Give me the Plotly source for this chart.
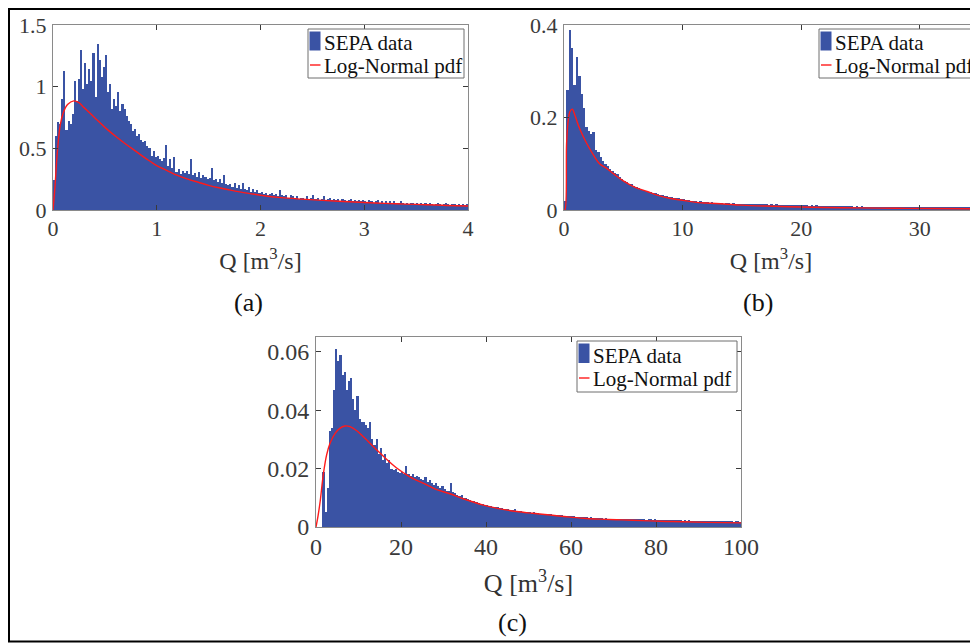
import plotly.graph_objects as go

# ---------------- data ----------------
A_BIN = 0.02
A_VALUES = [
    0.24, 0.60, 0.71, 0.70, 0.90, 1.13, 0.65, 0.72, 0.70, 0.78,
    1.05, 0.88, 1.06, 1.30, 0.98, 1.19, 1.02, 1.14, 1.05, 1.27,
    0.92, 1.35, 1.22, 1.08, 1.16, 1.26, 0.96, 1.02, 0.82, 0.90,
    0.84, 0.96, 0.80, 0.86, 0.82, 0.76, 0.72, 0.70, 0.64, 0.66,
    0.60, 0.62, 0.57, 0.55, 0.56, 0.52, 0.50, 0.44, 0.48, 0.43,
    0.44, 0.41, 0.40, 0.42, 0.53, 0.36, 0.41, 0.34, 0.43, 0.31,
    0.33, 0.29, 0.32, 0.30, 0.32, 0.29, 0.41, 0.28, 0.30, 0.27,
    0.31, 0.26, 0.28, 0.27, 0.25, 0.26, 0.34, 0.24, 0.25, 0.23,
    0.25, 0.22, 0.28, 0.21, 0.20, 0.21, 0.19, 0.22, 0.18, 0.20,
    0.17, 0.22, 0.17, 0.16, 0.19, 0.15, 0.17, 0.15, 0.16, 0.14,
    0.15, 0.13, 0.14, 0.12, 0.13, 0.14, 0.12, 0.13, 0.11, 0.16,
    0.12, 0.11, 0.12, 0.10, 0.12, 0.11, 0.10, 0.11, 0.09, 0.10,
    0.10, 0.09, 0.11, 0.09, 0.10, 0.12, 0.09, 0.10, 0.08, 0.09,
    0.11, 0.08, 0.09, 0.10, 0.08, 0.09, 0.08, 0.09, 0.07, 0.09,
    0.08, 0.07, 0.08, 0.09, 0.07, 0.08, 0.07, 0.08, 0.07, 0.08,
    0.07, 0.06, 0.08, 0.07, 0.06, 0.07, 0.08, 0.06, 0.07, 0.06,
    0.07, 0.06, 0.07, 0.06, 0.07, 0.05, 0.06, 0.07, 0.06, 0.05,
    0.06, 0.05, 0.06, 0.06, 0.05, 0.06, 0.05, 0.06, 0.05, 0.06,
    0.05, 0.06, 0.05, 0.04, 0.05, 0.06, 0.05, 0.04, 0.05, 0.06,
    0.05, 0.04, 0.05, 0.05, 0.04, 0.05, 0.04, 0.05, 0.04, 0.05,
]
A_CURVE_Q = [0, 0.02, 0.04, 0.07, 0.10, 0.14, 0.20, 0.25, 0.30, 0.40, 0.50,
             0.60, 0.70, 0.80, 0.90, 1.00, 1.10, 1.20, 1.30, 1.40, 1.50, 1.60,
             1.70, 1.80, 1.90, 2.00, 2.20, 2.40, 2.60, 2.80, 3.00, 3.20, 3.40,
             3.60, 3.80, 4.00]
A_CURVE_PDF = [0, 0.20, 0.45, 0.69, 0.79, 0.855, 0.885, 0.87, 0.83, 0.75, 0.67,
               0.60, 0.535, 0.475, 0.415, 0.36, 0.32, 0.28, 0.25, 0.225, 0.20,
               0.18, 0.163, 0.147, 0.133, 0.12, 0.10, 0.088, 0.078, 0.069,
               0.061, 0.054, 0.048, 0.043, 0.037, 0.032]

B_BIN = 0.2
B_VALUES = [
    0.02, 0.26, 0.39, 0.35, 0.27, 0.33, 0.29, 0.25, 0.22, 0.18,
    0.17, 0.165, 0.168, 0.13, 0.125, 0.115, 0.105, 0.10, 0.095, 0.088,
    0.085, 0.079, 0.077, 0.071, 0.068, 0.062, 0.061, 0.057, 0.056, 0.051,
    0.050, 0.047, 0.046, 0.043, 0.042, 0.040, 0.039, 0.037, 0.036, 0.034,
    0.033, 0.032, 0.031, 0.030, 0.029, 0.028, 0.027, 0.026, 0.025, 0.024,
    0.023, 0.021, 0.022, 0.020, 0.019, 0.020, 0.018, 0.019, 0.017, 0.018,
    0.017, 0.016, 0.017, 0.015, 0.016, 0.015, 0.016, 0.014, 0.015, 0.0145,
    0.014, 0.015, 0.0135, 0.014, 0.013, 0.014, 0.0135, 0.013, 0.0135, 0.013,
    0.0125, 0.013, 0.012, 0.0125, 0.012, 0.0125, 0.0115, 0.012, 0.0115, 0.012,
    0.011, 0.0115, 0.011, 0.0115, 0.0105, 0.011, 0.0105, 0.011, 0.010, 0.0105,
    0.010, 0.0105, 0.010, 0.0095, 0.010, 0.0095, 0.010, 0.009, 0.0095, 0.009,
    0.0095, 0.009, 0.0085, 0.009, 0.0085, 0.009, 0.0085, 0.008, 0.0085, 0.008,
    0.0085, 0.008, 0.0075, 0.008, 0.0075, 0.008, 0.0075, 0.007, 0.0075, 0.007,
    0.0075, 0.007, 0.0072, 0.0068, 0.007, 0.0068, 0.007, 0.0066, 0.0068, 0.0065,
    0.0068, 0.0065, 0.0067, 0.0063, 0.0065, 0.0062, 0.0066, 0.0063, 0.0062, 0.0064,
    0.0062, 0.0064, 0.006, 0.0062, 0.0059, 0.0061, 0.006, 0.0058, 0.006, 0.0059,
    0.0058, 0.006, 0.0057, 0.0059, 0.0056, 0.0058, 0.0057, 0.0055, 0.0057, 0.0056,
    0.0055, 0.0057, 0.0054, 0.0056, 0.0055,
]
B_CURVE_Q = [0, 0.08, 0.22, 0.36, 0.5, 0.7, 0.92, 1.2, 1.6, 2.0, 2.5, 3.0, 3.6,
             4.2, 5.0, 6.0, 7.0, 8.0, 9.0, 10, 11, 12, 13.5, 15, 17, 19, 22,
             25, 28, 31, 35]
B_CURVE_PDF = [0, 0.0, 0.145, 0.195, 0.213, 0.218, 0.205, 0.184, 0.16, 0.14,
               0.118, 0.10, 0.09, 0.078, 0.063, 0.049, 0.04, 0.031, 0.025,
               0.021, 0.017, 0.015, 0.013, 0.0105, 0.0085, 0.007, 0.0055,
               0.0045, 0.0037, 0.0031, 0.0026]

C_BIN = 0.5
C_VALUES = [
    0, 0, 0, 0.019, 0.005, 0.0135, 0.033, 0.034, 0.047, 0.061,
    0.057, 0.059, 0.052, 0.053, 0.047, 0.050, 0.051, 0.044, 0.040, 0.045,
    0.037, 0.036, 0.036, 0.035, 0.034, 0.036, 0.030, 0.028, 0.030, 0.025,
    0.027, 0.023, 0.025, 0.022, 0.023, 0.020, 0.0195, 0.020, 0.019, 0.0185,
    0.019, 0.018, 0.021, 0.018, 0.0175, 0.018, 0.017, 0.0175, 0.017, 0.0165,
    0.016, 0.017, 0.0155, 0.016, 0.015, 0.0145, 0.015, 0.014, 0.0135, 0.014,
    0.013, 0.0125, 0.0125, 0.015, 0.012, 0.0115, 0.011, 0.0105, 0.011, 0.010,
    0.0098, 0.0095, 0.0092, 0.009, 0.0088, 0.0085, 0.0083, 0.008, 0.0078, 0.0076,
    0.0075, 0.0073, 0.0072, 0.0070, 0.0068, 0.0067, 0.0066, 0.0064, 0.0063, 0.0062,
    0.0060, 0.0059, 0.0058, 0.0062, 0.0056, 0.0055, 0.0054, 0.0053, 0.0052, 0.0051,
    0.0050, 0.0049, 0.0050, 0.0048, 0.0047, 0.0046, 0.0046, 0.0045, 0.0044, 0.0045,
    0.0043, 0.0042, 0.0042, 0.0041, 0.0040, 0.0040, 0.0039, 0.0038, 0.0038, 0.0037,
    0.0036, 0.0037, 0.0035, 0.0035, 0.0034, 0.0034, 0.0033, 0.0033, 0.0032, 0.0033,
    0.0031, 0.0031, 0.0030, 0.0031, 0.0030, 0.0029, 0.0030, 0.0029, 0.0028, 0.0029,
    0.0028, 0.0029, 0.0028, 0.0027, 0.0028, 0.0027, 0.0028, 0.0026, 0.0027, 0.0028,
    0.0027, 0.0028, 0.0026, 0.0027, 0.0026, 0.0025, 0.0026, 0.0027, 0.0025, 0.0026,
    0.0025, 0.0024, 0.0025, 0.0024, 0.0025, 0.0023, 0.0024, 0.0023, 0.0024, 0.0023,
    0.0024, 0.0023, 0.0022, 0.0023, 0.0022, 0.0023, 0.0021, 0.0022, 0.0021, 0.0022,
    0.0021, 0.0022, 0.0021, 0.0020, 0.0021, 0.0020, 0.0021, 0.0020, 0.0019, 0.0020,
    0.0020, 0.0019, 0.0020, 0.0019, 0.0020, 0.0019, 0.0018, 0.0019, 0.0019, 0.0018,
]
C_CURVE_Q = [0, 0.5, 1.0, 1.7, 2.5, 3.3, 4.5, 5.6, 6.8, 8.0, 9.6, 11.1, 12.7,
             14.3, 16.6, 18.9, 22.1, 25.2, 28.4, 31.5, 35, 39.4, 43, 47.2, 51,
             55.1, 59, 62.9, 66.8, 70.7, 74.6, 78.6, 82.5, 86.4, 92, 100]
C_CURVE_PDF = [0, 0.004, 0.009, 0.0178, 0.0247, 0.0287, 0.0321, 0.0338, 0.0346,
               0.0344, 0.0330, 0.0310, 0.0287, 0.0264, 0.0232, 0.0203, 0.0172,
               0.0150, 0.0128, 0.0114, 0.0095, 0.0075, 0.0063, 0.0053, 0.0047,
               0.0041, 0.0035, 0.0030, 0.0027, 0.0025, 0.0023, 0.0021, 0.0019,
               0.0018, 0.0016, 0.0014]

A_XTICKS = [0, 1, 2, 3, 4]
A_YTICKS = [0, 0.5, 1, 1.5]
A_YTICKTEXT = ["0", "0.5", "1", "1.5"]
B_XTICKS = [0, 10, 20, 30]
B_YTICKS = [0, 0.2, 0.4]
B_YTICKTEXT = ["0", "0.2", "0.4"]
C_XTICKS = [0, 20, 40, 60, 80, 100]
C_YTICKS = [0, 0.02, 0.04, 0.06]
C_YTICKTEXT = ["0", "0.02", "0.04", "0.06"]

HIST_NAME = "SEPA data"
PDF_NAME = "Log-Normal pdf"
X_TITLE = "Q [m<sup>3</sup>/s]"
PANEL_LABELS = ["(a)", "(b)", "(c)"]

# ---------------- figure ----------------
OFF = 8                      # page body margin
W, H = 970, 635
FONT = "Liberation Serif"
BAR_COLOR = "#3a53a4"
LINE_COLOR = "#ff1a1a"
TXT = "#3a3a3a"


def px_x(p):
    return (p - OFF) / W


def px_y(p):
    return 1 - (p - OFF) / H


fig = go.Figure()

panels = [
    dict(vals=A_VALUES, bw=A_BIN, cq=A_CURVE_Q, cp=A_CURVE_PDF, xa="x", ya="y"),
    dict(vals=B_VALUES, bw=B_BIN, cq=B_CURVE_Q, cp=B_CURVE_PDF, xa="x2", ya="y2"),
    dict(vals=C_VALUES, bw=C_BIN, cq=C_CURVE_Q, cp=C_CURVE_PDF, xa="x3", ya="y3"),
]
for p in panels:
    centers = [p["bw"] * (i + 0.5) for i in range(len(p["vals"]))]
    fig.add_trace(go.Bar(
        x=centers, y=p["vals"], width=p["bw"], name=HIST_NAME, showlegend=False,
        marker=dict(color=BAR_COLOR, line=dict(width=0)),
        xaxis=p["xa"], yaxis=p["ya"],
    ))
    fig.add_trace(go.Scatter(
        x=p["cq"], y=p["cp"], mode="lines", name=PDF_NAME, showlegend=False,
        line=dict(color=LINE_COLOR, width=1.4, shape="spline"),
        xaxis=p["xa"], yaxis=p["ya"],
    ))

tick_font = dict(family=FONT, size=22, color=TXT)
tick_font_c = dict(family=FONT, size=24, color=TXT)
axis_common = dict(
    showline=True, linecolor="#8a8a8a", linewidth=1, mirror="ticks",
    ticks="inside", ticklen=5, tickwidth=1, tickcolor=TXT,
    showgrid=False, zeroline=False, automargin=False,
)

fig.update_layout(
    width=W, height=H,
    margin=dict(l=0, r=0, t=0, b=0),
    paper_bgcolor="white", plot_bgcolor="white",
    bargap=0, barmode="overlay", showlegend=False,
    font=dict(family=FONT, color="#222"),
    xaxis=dict(domain=[px_x(53), px_x(468)], range=[0, 4], tickvals=A_XTICKS,
               tickfont=tick_font, anchor="y", ticklabelstandoff=-1,
               title=dict(text=X_TITLE, font=dict(family=FONT, size=24, color="#333"), standoff=11),
               **axis_common),
    yaxis=dict(domain=[px_y(210), px_y(25)], range=[0, 1.5], tickvals=A_YTICKS,
               ticktext=A_YTICKTEXT, tickfont=tick_font, anchor="x", ticklabelstandoff=1,
               **axis_common),
    xaxis2=dict(domain=[px_x(564), 1.0], range=[0, 34.9], tickvals=B_XTICKS,
                tickfont=tick_font, anchor="y2", ticklabelstandoff=-1,
                title=dict(text=X_TITLE, font=dict(family=FONT, size=24, color="#333"), standoff=11),
                **axis_common),
    yaxis2=dict(domain=[px_y(210), px_y(25)], range=[0, 0.4], tickvals=B_YTICKS,
                ticktext=B_YTICKTEXT, tickfont=tick_font, anchor="x2", ticklabelstandoff=1,
                **axis_common),
    xaxis3=dict(domain=[px_x(316), px_x(741)], range=[0, 100], tickvals=C_XTICKS,
                tickfont=tick_font_c, anchor="y3", ticklabelstandoff=-2,
                title=dict(text=X_TITLE, font=dict(family=FONT, size=26, color="#333"), standoff=15),
                **axis_common),
    yaxis3=dict(domain=[px_y(527), px_y(337)], range=[0, 0.0651], tickvals=C_YTICKS,
                ticktext=C_YTICKTEXT, tickfont=tick_font_c, anchor="x3", ticklabelstandoff=1,
                **axis_common),
)


# ---------------- legends (box, swatches and real text) ----------------
def draw_legend(x0, x1, y0, y1, row1, row2, patch_top, patch_bot, text_x):
    fig.add_shape(type="rect", xref="paper", yref="paper",
                  x0=px_x(x0), x1=px_x(x1), y0=px_y(y1), y1=px_y(y0),
                  line=dict(color="#6e6e6e", width=1), fillcolor="white", layer="above")
    fig.add_shape(type="rect", xref="paper", yref="paper",
                  x0=px_x(x0 + 1.5), x1=px_x(text_x - 1.5), y0=px_y(patch_bot), y1=px_y(patch_top),
                  line=dict(width=0), fillcolor=BAR_COLOR, layer="above")
    fig.add_shape(type="line", xref="paper", yref="paper",
                  x0=px_x(x0 + 2), x1=px_x(text_x - 1.5), y0=px_y(row2), y1=px_y(row2),
                  line=dict(color=LINE_COLOR, width=1.4), layer="above")
    for txt, ry in ((HIST_NAME, row1), (PDF_NAME, row2)):
        fig.add_annotation(text=txt, x=px_x(text_x), y=px_y(ry + 1), xref="paper", yref="paper",
                           showarrow=False, xanchor="left", yanchor="middle",
                           font=dict(family=FONT, size=21, color="#111"))


draw_legend(308, 464, 29, 78, 42, 65, 31.5, 50.5, 322)
draw_legend(819, 975, 29, 78, 42, 65, 31.5, 50.5, 833)
draw_legend(577, 737, 341, 392, 355, 378, 343.5, 363, 591)

# panel labels
for label, (cx, cy) in zip(PANEL_LABELS, [(248, 302), (758, 302), (512, 622)]):
    fig.add_annotation(text=label, x=px_x(cx), y=px_y(cy), xref="paper", yref="paper",
                       showarrow=False, xanchor="center", yanchor="middle",
                       font=dict(family=FONT, size=26, color="#111"))

# outer frame (its right side is cropped in the reference)
fig.add_shape(type="rect", xref="paper", yref="paper",
              x0=px_x(9), x1=px_x(1000), y0=px_y(641.5), y1=px_y(9),
              line=dict(color="black", width=2), fillcolor="rgba(0,0,0,0)", layer="above")

fig.write_html("out.html")
